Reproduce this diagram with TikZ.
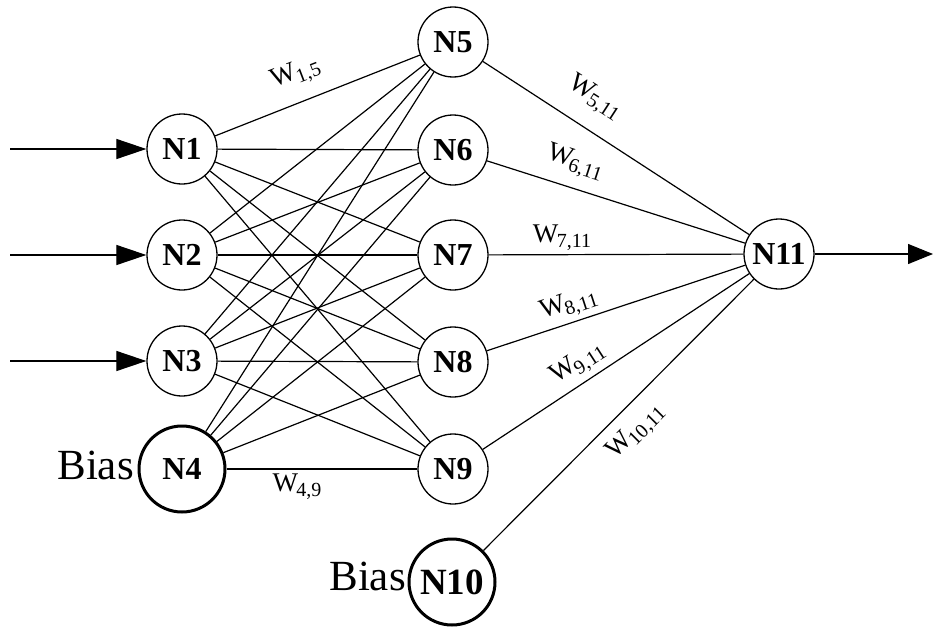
\documentclass[tikz,border=0pt]{standalone}
\usepackage{fontspec}
\setmainfont{Liberation Serif}
\usetikzlibrary{arrows.meta}

% weight symbol with a lowered index
\newcommand\wlab[1]{W\kern-1.5pt\raisebox{-5pt}{\fontsize{20}{20}\selectfont #1}}

\begin{document}
\begin{tikzpicture}[x=1pt,y=-1pt,
  neuron/.style={circle,draw,line width=1.3pt,minimum size=70pt,inner sep=0pt,
                 font=\fontsize{32}{32}\selectfont\bfseries},
  biasneuron/.style={neuron,line width=3pt,minimum size=86pt},
  link/.style={line width=1.2pt},
  flow/.style={line width=1.2pt,-{Triangle[length=30pt,width=20pt]}},
  wlabel/.style={inner sep=0pt,font=\fontsize{27}{27}\selectfont},
  biaslabel/.style={inner sep=0pt,font=\fontsize{43}{43}\selectfont}]
\useasboundingbox (0,0) rectangle (933,626);

% input layer
\node[neuron] (n1) at (182,149) {N1};
\node[neuron] (n2) at (182,255) {N2};
\node[neuron] (n3) at (182,361) {N3};
\node[biasneuron] (n4) at (182,469) {N4};
% hidden layer
\node[neuron] (n5) at (453,42) {N5};
\node[neuron] (n6) at (453,150) {N6};
\node[neuron] (n7) at (453,255) {N7};
\node[neuron] (n8) at (453,362) {N8};
\node[neuron] (n9) at (453,469) {N9};
\node[biasneuron,font=\fontsize{37}{37}\selectfont\bfseries] (n10) at (452,582) {N10};
% output
\node[neuron] (n11) at (779,254) {N11};

% bias captions
\node[biaslabel,anchor=east] (b4) at (134,465) {Bias};
\node[biaslabel,anchor=east] (b10) at (406,576) {Bias};

% inputs and output
\coordinate (i1) at (10,149);
\coordinate (i2) at (10,255);
\coordinate (i3) at (10,361);
\coordinate (o) at (933,254);
\draw[flow] (i1) -- (n1);
\draw[flow] (i2) -- (n2);
\draw[flow] (i3) -- (n3);
\draw[line width=1.2pt,-{Triangle[length=25pt,width=20pt]}] (n11) -- (o);

% full connections input -> hidden
\foreach \a in {n1,n2,n3,n4}
  \foreach \b in {n5,n6,n7,n8,n9}
    \draw[link] (\a) -- (\b);

% hidden -> output
\foreach \b in {n5,n6,n7,n8,n9,n10}
  \draw[link] (\b) -- (n11);

% weight labels
\node[wlabel,rotate=21] (w15) at (296,74) {\wlab{1,5}};
\node[wlabel] (w49) at (297,487) {\wlab{4,9}};
\node[wlabel,rotate=-33] (w511) at (595,98) {\wlab{5,11}};
\node[wlabel,rotate=-18] (w611) at (575,163) {\wlab{6,11}};
\node[wlabel] (w711) at (562,238) {\wlab{7,11}};
\node[wlabel,rotate=18] (w811) at (569,305) {\wlab{8,11}};
\node[wlabel,rotate=33] (w911) at (578,364) {\wlab{9,11}};
\node[wlabel,rotate=45] (w1011) at (636,432) {\wlab{10,11}};
\end{tikzpicture}
\end{document}
